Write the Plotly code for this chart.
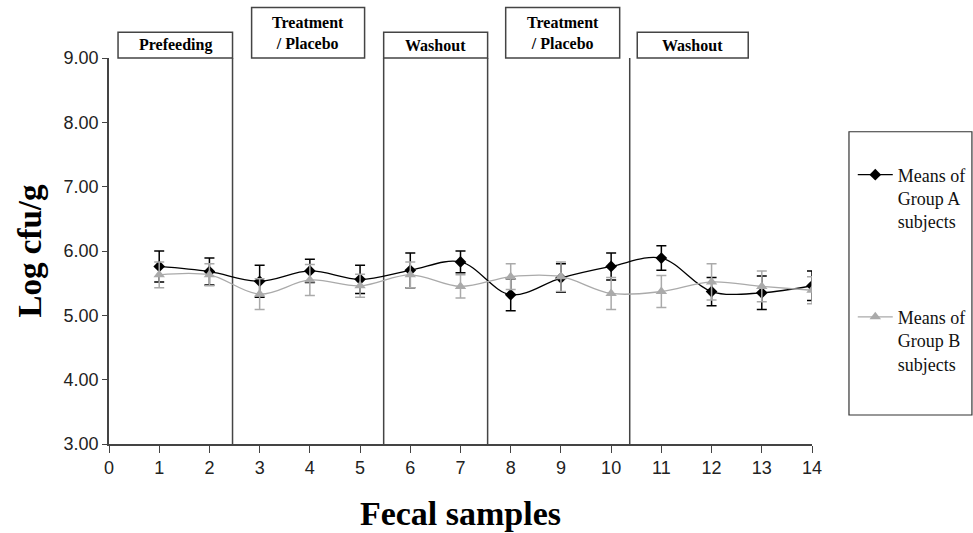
import plotly.graph_objects as go

samples = list(range(1, 15))
group_a = [5.76, 5.68, 5.53, 5.69, 5.56, 5.70, 5.83, 5.32, 5.58, 5.76, 5.89, 5.37, 5.35, 5.46]
group_a_err = [0.24, 0.21, 0.25, 0.18, 0.22, 0.27, 0.17, 0.25, 0.22, 0.21, 0.19, 0.22, 0.26, 0.23]
group_b = [5.63, 5.63, 5.33, 5.55, 5.46, 5.63, 5.45, 5.60, 5.60, 5.34, 5.37, 5.52, 5.45, 5.39]
group_b_err = [0.20, 0.17, 0.24, 0.24, 0.18, 0.20, 0.18, 0.20, 0.23, 0.25, 0.25, 0.28, 0.24, 0.21]

phase_labels = ["Prefeeding", "Treatment<br>/ Placebo", "Washout", "Treatment<br>/ Placebo", "Washout"]
phase_x0 = [0.18, 2.84, 5.47, 7.90, 10.52]
phase_x1 = [2.46, 5.09, 7.54, 10.17, 12.73]
phase_top = [1.0666, 1.131, 1.0666, 1.131, 1.0666]
divider_x = [2.46, 5.47, 7.54, 10.37]

serif = "Liberation Serif"
sans = "Liberation Sans"

fig = go.Figure()
fig.add_trace(go.Scatter(
    x=samples, y=group_a, name="Means of<br>Group A<br>subjects", legendgroup="a",
    mode="lines+markers", line=dict(color="black", width=1.3, shape="spline"),
    marker=dict(symbol="diamond", size=9, color="black"),
    error_y=dict(type="data", array=group_a_err, color="black", thickness=1.5, width=5),
))
fig.add_trace(go.Scatter(
    x=samples, y=group_b, name="Means of<br>Group B<br>subjects", legendgroup="b",
    mode="lines+markers", line=dict(color="#aaaaaa", width=1.3, shape="spline"),
    marker=dict(symbol="triangle-up", size=10, color="#aaaaaa"),
    error_y=dict(type="data", array=group_b_err, color="#aaaaaa", thickness=1.5, width=5),
))

shapes = []
for xv in divider_x:
    shapes.append(dict(type="line", xref="x", yref="paper", x0=xv, x1=xv, y0=0, y1=1,
                       line=dict(color="#444", width=1.5), layer="below"))
annotations = []
for lab, a, b, t in zip(phase_labels, phase_x0, phase_x1, phase_top):
    shapes.append(dict(type="rect", xref="x", yref="paper", x0=a, x1=b, y0=1.0, y1=t,
                       line=dict(color="#444", width=1.5), fillcolor="white"))
    annotations.append(dict(x=(a + b) / 2, y=(1.0 + t) / 2, xref="x", yref="paper",
                            xanchor="center", yanchor="middle",
                            text="<b>" + lab + "</b>", showarrow=False,
                            font=dict(family=serif, size=16, color="black")))
# legend frame
shapes.append(dict(type="rect", xref="paper", yref="paper", x0=1.0526, x1=1.2275,
                   y0=0.0751, y1=0.809, line=dict(color="#333", width=1.2)))

fig.update_layout(
    width=973, height=533,
    margin=dict(l=109, r=161, t=58, b=89, autoexpand=False),
    paper_bgcolor="white", plot_bgcolor="white",
    shapes=shapes, annotations=annotations,
    showlegend=True,
    legend=dict(x=1.058, y=0.745, xanchor="left", yanchor="top",
                font=dict(family=serif, size=18, color="#111"),
                tracegroupgap=69, valign="top", itemwidth=35, bgcolor="rgba(0,0,0,0)"),
    xaxis=dict(range=[0, 14], tickmode="array", tickvals=list(range(0, 15)),
               showgrid=False, zeroline=False, showline=True, linecolor="#444", linewidth=1.5,
               ticks="outside", ticklen=7, tickcolor="#444", tickwidth=1.3,
               tickfont=dict(family=sans, size=18, color="#222"),
               title=dict(text="<b>Fecal samples</b>", font=dict(family=serif, size=34, color="black"),
                          standoff=24)),
    yaxis=dict(range=[3, 9], tickmode="array", tickvals=[3, 4, 5, 6, 7, 8, 9],
               ticktext=["3.00", "4.00", "5.00", "6.00", "7.00", "8.00", "9.00"],
               showgrid=False, zeroline=False, showline=True, linecolor="#444", linewidth=1.5,
               ticks="outside", ticklen=5, tickcolor="#444", tickwidth=1.3,
               tickfont=dict(family=sans, size=18, color="#222"),
               title=dict(text="<b>Log cfu/g</b>", font=dict(family=serif, size=33, color="black"),
                          standoff=12)),
)
fig.write_html("out.html")
